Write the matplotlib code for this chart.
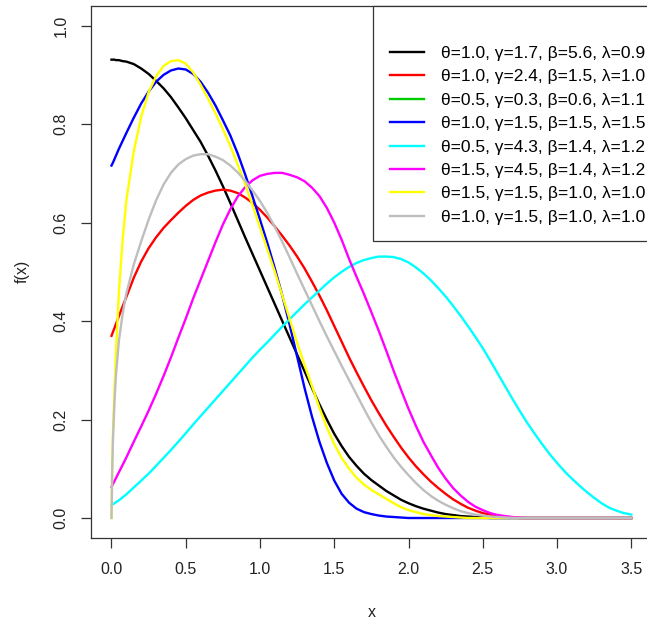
import matplotlib
matplotlib.use("Agg")
import matplotlib.pyplot as plt
from matplotlib.lines import Line2D

# x grid the curves were read on (finer near 0 where some curves rise steeply)
x = [0, 0.005, 0.01, 0.02, 0.03, 0.05, 0.075,
     0.1, 0.15, 0.2, 0.25, 0.3, 0.35, 0.4, 0.45, 0.5, 0.55,
     0.6, 0.65, 0.7, 0.75, 0.8, 0.85, 0.9, 0.95, 1.0, 1.05,
     1.1, 1.15, 1.2, 1.25, 1.3, 1.35, 1.4, 1.45, 1.5, 1.55,
     1.6, 1.65, 1.7, 1.75, 1.8, 1.85, 1.9, 1.95, 2.0, 2.05,
     2.1, 2.15, 2.2, 2.25, 2.3, 2.35, 2.4, 2.45, 2.5, 2.55,
     2.6, 2.65, 2.7, 2.75, 2.8, 2.85, 2.9, 2.95, 3.0, 3.05,
     3.1, 3.15, 3.2, 3.25, 3.3, 3.35, 3.4, 3.45, 3.5]

black_y = [0.931, 0.931, 0.931, 0.931, 0.930, 0.930, 0.928,
           0.927, 0.922, 0.913, 0.902, 0.888, 0.873, 0.855, 0.834, 0.812, 0.788,
           0.764, 0.736, 0.706, 0.674, 0.640, 0.605, 0.570, 0.536, 0.502, 0.468,
           0.434, 0.400, 0.366, 0.332, 0.298, 0.264, 0.231, 0.200, 0.171, 0.146,
           0.124, 0.106, 0.090, 0.077, 0.066, 0.055, 0.046, 0.037, 0.030, 0.024,
           0.019, 0.015, 0.011, 0.008, 0.006, 0.004, 0.003, 0.002, 0.001, 0.0,
           0.0, 0.0, 0.0, 0.0, 0.0, 0.0, 0.0, 0.0, 0.0, 0.0,
           0.0, 0.0, 0.0, 0.0, 0.0, 0.0, 0.0, 0.0, 0.0]

red_y = [0.370, 0.374, 0.378, 0.386, 0.394, 0.410, 0.430,
         0.449, 0.488, 0.521, 0.548, 0.570, 0.589, 0.605, 0.620, 0.634, 0.646,
         0.655, 0.661, 0.665, 0.667, 0.665, 0.660, 0.651, 0.640, 0.626, 0.610,
         0.592, 0.573, 0.553, 0.531, 0.507, 0.480, 0.452, 0.422, 0.390, 0.358,
         0.326, 0.296, 0.267, 0.239, 0.213, 0.188, 0.165, 0.143, 0.123, 0.105,
         0.089, 0.074, 0.061, 0.049, 0.038, 0.029, 0.021, 0.015, 0.010, 0.007,
         0.004, 0.002, 0.001, 0.0, 0.0, 0.0, 0.0, 0.0, 0.0, 0.0,
         0.0, 0.0, 0.0, 0.0, 0.0, 0.0, 0.0, 0.0, 0.0]

# no visible green curve in the picture, only its legend entry
green_y = []

blue_y = [0.716, 0.719, 0.722, 0.729, 0.736, 0.750, 0.766,
          0.782, 0.813, 0.842, 0.866, 0.886, 0.900, 0.909, 0.913, 0.911, 0.902,
          0.886, 0.864, 0.838, 0.808, 0.777, 0.740, 0.698, 0.653, 0.606, 0.558,
          0.507, 0.452, 0.392, 0.328, 0.264, 0.206, 0.155, 0.112, 0.076, 0.049,
          0.031, 0.019, 0.012, 0.008, 0.005, 0.003, 0.002, 0.001, 0.0, 0.0,
          0.0, 0.0, 0.0, 0.0, 0.0, 0.0, 0.0, 0.0, 0.0, 0.0,
          0.0, 0.0, 0.0, 0.0, 0.0, 0.0, 0.0, 0.0, 0.0, 0.0,
          0.0, 0.0, 0.0, 0.0, 0.0, 0.0, 0.0, 0.0, 0.0]

cyan_y = [0.026, 0.027, 0.028, 0.030, 0.032, 0.036, 0.042,
          0.048, 0.062, 0.076, 0.090, 0.106, 0.122, 0.138, 0.155, 0.172, 0.190,
          0.207, 0.224, 0.241, 0.258, 0.275, 0.292, 0.309, 0.326, 0.342, 0.357,
          0.373, 0.389, 0.404, 0.419, 0.434, 0.448, 0.462, 0.476, 0.489, 0.500,
          0.510, 0.518, 0.524, 0.528, 0.531, 0.531, 0.530, 0.526, 0.519, 0.509,
          0.497, 0.483, 0.467, 0.450, 0.431, 0.411, 0.390, 0.368, 0.345, 0.320,
          0.294, 0.268, 0.242, 0.217, 0.193, 0.171, 0.150, 0.130, 0.112, 0.095,
          0.080, 0.066, 0.053, 0.041, 0.030, 0.021, 0.015, 0.010, 0.007]

magenta_y = [0.063, 0.066, 0.069, 0.075, 0.081, 0.093, 0.108,
             0.123, 0.155, 0.186, 0.218, 0.252, 0.288, 0.326, 0.366, 0.405, 0.446,
             0.484, 0.522, 0.560, 0.596, 0.627, 0.653, 0.672, 0.686, 0.695, 0.699,
             0.701, 0.701, 0.697, 0.692, 0.684, 0.671, 0.654, 0.630, 0.600, 0.565,
             0.526, 0.490, 0.455, 0.418, 0.380, 0.340, 0.299, 0.260, 0.222, 0.187,
             0.155, 0.128, 0.102, 0.080, 0.061, 0.046, 0.033, 0.023, 0.016, 0.010,
             0.006, 0.004, 0.002, 0.001, 0.0, 0.0, 0.0, 0.0, 0.0, 0.0,
             0.0, 0.0, 0.0, 0.0, 0.0, 0.0, 0.0, 0.0, 0.0]

yellow_y = [0.0, 0.110, 0.175, 0.260, 0.335, 0.460, 0.565,
            0.645, 0.745, 0.815, 0.865, 0.897, 0.918, 0.928, 0.930, 0.923, 0.905,
            0.880, 0.852, 0.822, 0.790, 0.756, 0.718, 0.678, 0.635, 0.590, 0.545,
            0.500, 0.452, 0.404, 0.356, 0.311, 0.268, 0.224, 0.184, 0.150, 0.122,
            0.100, 0.082, 0.068, 0.057, 0.048, 0.039, 0.030, 0.022, 0.016, 0.012,
            0.008, 0.006, 0.004, 0.003, 0.002, 0.001, 0.0, 0.0, 0.0, 0.0,
            0.0, 0.0, 0.0, 0.0, 0.0, 0.0, 0.0, 0.0, 0.0, 0.0,
            0.0, 0.0, 0.0, 0.0, 0.0, 0.0, 0.0, 0.0, 0.0]

gray_y = [0.0, 0.100, 0.160, 0.235, 0.290, 0.360, 0.415,
          0.456, 0.515, 0.562, 0.606, 0.645, 0.677, 0.701, 0.718, 0.729, 0.736,
          0.739, 0.739, 0.734, 0.727, 0.716, 0.702, 0.685, 0.665, 0.644, 0.619,
          0.591, 0.561, 0.529, 0.496, 0.464, 0.432, 0.400, 0.369, 0.339, 0.309,
          0.280, 0.251, 0.222, 0.194, 0.168, 0.145, 0.123, 0.104, 0.087, 0.071,
          0.057, 0.045, 0.035, 0.027, 0.020, 0.014, 0.010, 0.007, 0.005, 0.003,
          0.002, 0.001, 0.0, 0.0, 0.0, 0.0, 0.0, 0.0, 0.0, 0.0,
          0.0, 0.0, 0.0, 0.0, 0.0, 0.0, 0.0, 0.0, 0.0]

labels = ["θ=1.0, γ=1.7, β=5.6, λ=0.9",
          "θ=1.0, γ=2.4, β=1.5, λ=1.0",
          "θ=0.5, γ=0.3, β=0.6, λ=1.1",
          "θ=1.0, γ=1.5, β=1.5, λ=1.5",
          "θ=0.5, γ=4.3, β=1.4, λ=1.2",
          "θ=1.5, γ=4.5, β=1.4, λ=1.2",
          "θ=1.5, γ=1.5, β=1.0, λ=1.0",
          "θ=1.0, γ=1.5, β=1.0, λ=1.0"]
colors = ["#000000", "#FF0000", "#00CD00", "#0000FF",
          "#00FFFF", "#FF00FF", "#FFFF00", "#BEBEBE"]

xticks = [0.0, 0.5, 1.0, 1.5, 2.0, 2.5, 3.0, 3.5]
xtick_labels = ["0.0", "0.5", "1.0", "1.5", "2.0", "2.5", "3.0", "3.5"]
yticks = [0.0, 0.2, 0.4, 0.6, 0.8, 1.0]
ytick_labels = ["0.0", "0.2", "0.4", "0.6", "0.8", "1.0"]

plt.rcParams['font.family'] = ['Liberation Sans', 'DejaVu Sans']

fig = plt.figure(figsize=(6.47, 6.24), dpi=100)
# R-style plot region; the right edge runs just past the image border
ax = fig.add_axes([0.1402, 0.1383, 0.8676, 0.8521])

series = [black_y, red_y, green_y, blue_y, cyan_y, magenta_y, yellow_y, gray_y]
handles = []
for ys, col, lab in zip(series, colors, labels):
    h, = ax.plot(x[:len(ys)], ys, color=col, lw=1.7, label=lab)
    handles.append(h)

ax.set_xlim(-0.14, 3.64)
ax.set_ylim(-0.04, 1.04)
ax.set_xticks(xticks)
ax.set_xticklabels(xtick_labels)
ax.set_yticks(yticks)
ax.set_yticklabels(ytick_labels)
ax.tick_params(direction='out', length=7.2, width=0.9, colors='#333333',
               labelsize=11.5, labelcolor='#222222')
ax.tick_params(axis='x', pad=10)
ax.tick_params(axis='y', pad=8.6)
for lb in ax.get_yticklabels():
    lb.set_rotation(90)
    lb.set_va('center')
for s in ax.spines.values():
    s.set_color('#333333')
    s.set_linewidth(0.9)

ax.set_xlabel('x', fontsize=11.5, color='#222222')
ax.xaxis.set_label_coords(0.5, -0.126)
ax.set_ylabel('f(x)', fontsize=11.5, color='#222222')
ax.yaxis.set_label_coords(-0.109, 0.5)

# blank first row gives the empty band at the top of the legend box;
# box is pinned on its left side and runs out past the image edge
blank = Line2D([], [], color='none')
leg = ax.legend([blank] + handles, [' '] + labels, loc='upper left',
                bbox_to_anchor=(0.503, 1.0), borderaxespad=0, fontsize=12.5,
                handlelength=1.96, handletextpad=0.98, borderpad=0.95,
                labelspacing=0.475, fancybox=False, framealpha=1,
                edgecolor='#333333')
leg.get_frame().set_linewidth(0.9)

fig.savefig('out.png', dpi=100)
